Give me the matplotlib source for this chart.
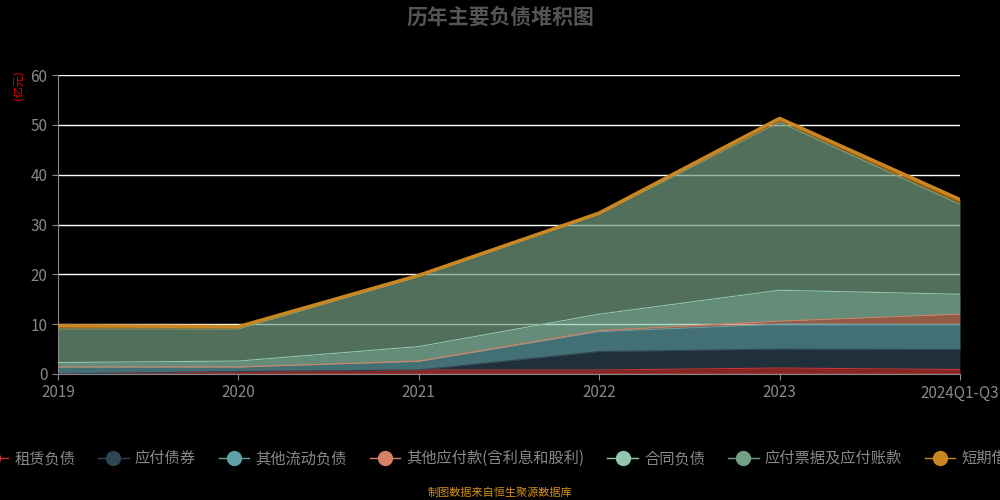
import matplotlib
matplotlib.use("Agg")
import matplotlib.pyplot as plt
import numpy as np

plt.rcParams['font.family'] = 'sans-serif'
plt.rcParams['font.sans-serif'] = ['Noto Sans CJK SC', 'Noto Sans CJK JP', 'Noto Sans CJK TC', 'DejaVu Sans']

years = ["2019", "2020", "2021", "2022", "2023", "2024Q1-Q3"]
names = ["租赁负债", "应付债券", "其他流动负债", "其他应付款(含利息和股利)", "合同负债", "应付票据及应付账款", "短期借款"]
lease = [0.0, 0.5, 0.8, 0.8, 1.2, 0.9]
bonds = [0.0, 0.0, 0.0, 3.7, 3.8, 4.0]
other_cur = [1.4, 0.9, 1.7, 4.0, 5.0, 5.0]
other_pay = [0.0, 0.0, 0.1, 0.2, 0.6, 2.1]
contract = [0.9, 1.2, 2.9, 3.3, 6.2, 4.0]
payables = [6.7, 6.4, 14.0, 20.0, 33.7, 18.0]
short = [0.7, 0.5, 0.3, 0.3, 0.8, 1.0]
series = [lease, bonds, other_cur, other_pay, contract, payables, short]
colors = ["#c23531", "#2f4554", "#61a0a8", "#d48265", "#91c7ae", "#749f83", "#ca8622"]

fig = plt.figure(figsize=(10, 5), dpi=100, facecolor="black")
ax = fig.add_axes([0.058, 0.252, 0.902, 0.598])
ax.set_facecolor("black")
x = np.arange(len(years))
base = np.zeros(len(years))
for s, c, n in zip(series, colors, names):
    top = base + np.array(s)
    ax.fill_between(x, base, top, color=c, alpha=0.7, lw=0, zorder=2)
    ax.plot(x, top, color=c, lw=2.5 if c == "#ca8622" else 0.8, zorder=3)
    ax.plot([], [], marker='o', color=c, ms=10, lw=1, label=n)
    base = top

ax.set_xlim(0, len(years) - 1)
ax.set_ylim(0, 60)
ax.set_yticks(range(0, 61, 10))
ax.set_xticks(x)
ax.set_xticklabels(years)
ax.grid(axis='y', color="white", lw=1, zorder=4)
ax.tick_params(colors="#888888", labelsize=11, length=4)
for sp in ["top", "right"]:
    ax.spines[sp].set_visible(False)
for sp in ["left", "bottom"]:
    ax.spines[sp].set_color("#888888")

fig.text(0.5, 0.965, "历年主要负债堆积图", ha="center", va="center", color="#555555", fontsize=15, fontweight="bold")
fig.text(0.018, 0.83, "(亿元)", rotation=90, ha="center", va="center", color="red", fontsize=8)
fig.text(0.5, 0.015, "制图数据来自恒生聚源数据库", ha="center", va="center", color="#d48f1a", fontsize=8)
fig.legend(loc="center", bbox_to_anchor=(0.5, 0.083), ncol=7, frameon=False, labelcolor="#888888",
           fontsize=11, handlelength=2, columnspacing=1.5, handletextpad=0.4)
fig.savefig("out.png", facecolor="black")
